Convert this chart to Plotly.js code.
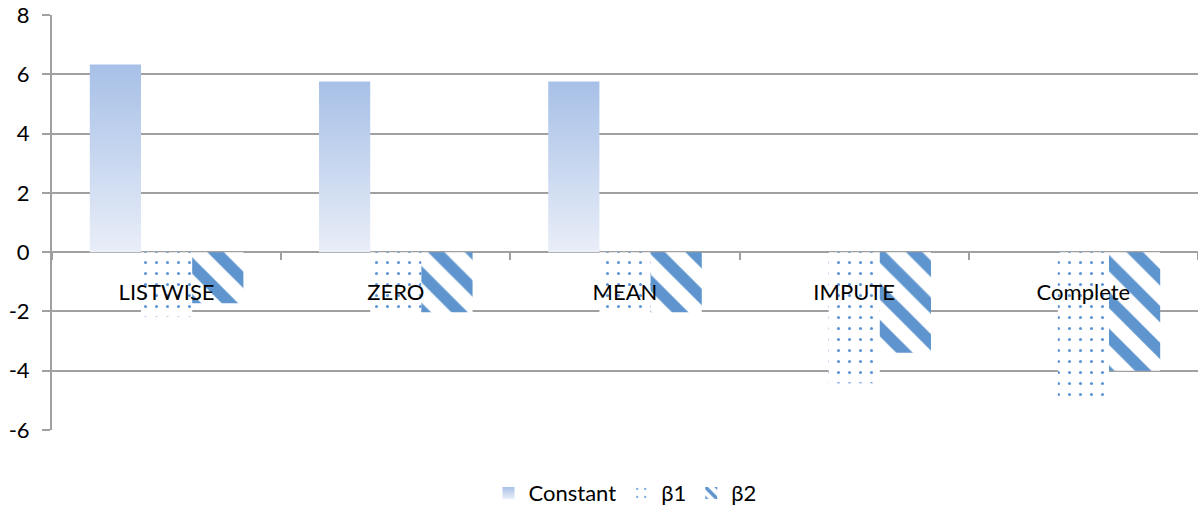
<!DOCTYPE html>
<html>
<head>
<meta charset="utf-8">
<script src="https://cdn.plot.ly/plotly-3.0.1.min.js"></script>
<style>html,body{margin:0;padding:0;background:#fff;}#chart{width:1198px;height:508px;}</style>
</head>
<body>
<div id="chart"></div>
<script>
const categories = ["LISTWISE", "ZERO", "MEAN", "IMPUTE", "Complete"];
const constantVals = [6.33, 5.76, 5.76, 0, 0];
const beta1Vals = [-2.17, -2.03, -2.03, -4.42, -4.98];
const beta2Vals = [-1.72, -2.03, -2.03, -3.39, -4.0];
const seriesNames = ["Constant", "β1", "β2"];
const yTicks = [-6, -4, -2, 0, 2, 4, 6, 8];

const grid = "#a0a0a0";
const fontFam = "Lato, 'Open Sans', sans-serif";

const traces = [
  {type: "bar", name: seriesNames[0], x: categories, y: constantVals,
   marker: {color: "#c6d5ee", line: {width: 0}}},
  {type: "bar", name: seriesNames[1], x: categories, y: beta1Vals,
   marker: {color: "#ffffff", line: {width: 0},
     pattern: {shape: ".", fgcolor: "#5b93d6", bgcolor: "#ffffff", size: 11, solidity: 0.06, fillmode: "replace"}}},
  {type: "bar", name: seriesNames[2], x: categories, y: beta2Vals,
   marker: {color: "#ffffff", line: {width: 0},
     pattern: {shape: "\\", fgcolor: "#5e95ce", bgcolor: "#ffffff", size: 26, solidity: 0.45, fillmode: "replace"}}}
];

const layout = {
  width: 1198, height: 508,
  margin: {l: 52, r: 0, t: 15, b: 78, autoexpand: false},
  paper_bgcolor: "#ffffff", plot_bgcolor: "#ffffff",
  font: {family: fontFam, size: 22, color: "#000000"},
  barmode: "group", bargap: 0.33, bargroupgap: 0,
  showlegend: true,
  legend: {orientation: "h", x: 0.5, xanchor: "center", y: -0.152, yanchor: "middle",
    font: {family: fontFam, size: 22}, itemwidth: 30, tracegroupgap: 0},
  xaxis: {
    type: "category", anchor: "free", automargin: false,
    position: (0 - yTicks[0]) / (yTicks[yTicks.length-1] - yTicks[0]),
    showline: false, showgrid: false, zeroline: false,
    ticks: "outside", tickson: "boundaries", ticklen: 7, tickwidth: 2, tickcolor: grid,
    ticklabelstandoff: 25, tickfont: {family: fontFam, size: 22, color: "#000"}
  },
  yaxis: {
    automargin: false,
    range: [yTicks[0], yTicks[yTicks.length-1]], tickvals: yTicks, ticktext: yTicks.map(String),
    showgrid: true, gridcolor: grid, gridwidth: 2,
    zeroline: true, zerolinecolor: grid, zerolinewidth: 2,
    showline: true, linecolor: grid, linewidth: 2,
    ticks: "outside", ticklen: 8, tickwidth: 2, tickcolor: grid,
    ticklabelstandoff: 8, tickfont: {family: fontFam, size: 22, color: "#000"}
  }
};

Plotly.newPlot("chart", traces, layout, {displayModeBar: false, staticPlot: true}).then(function (gd) {
  const svg = gd.querySelector(".main-svg");
  const ns = "http://www.w3.org/2000/svg";
  let defs = svg.querySelector("defs");
  if (!defs) { defs = document.createElementNS(ns, "defs"); svg.insertBefore(defs, svg.firstChild); }
  const lg = document.createElementNS(ns, "linearGradient");
  lg.setAttribute("id", "constGrad");
  lg.setAttribute("x1", "0"); lg.setAttribute("y1", "0");
  lg.setAttribute("x2", "0"); lg.setAttribute("y2", "1");
  [["0", "#a7c0e7"], ["1", "#e9eef8"]].forEach(function (s) {
    const st = document.createElementNS(ns, "stop");
    st.setAttribute("offset", s[0]); st.setAttribute("stop-color", s[1]);
    lg.appendChild(st);
  });
  defs.appendChild(lg);
  const tr = gd.querySelectorAll(".barlayer .trace")[0];
  if (tr) tr.querySelectorAll("path").forEach(function (p) { p.style.fill = "url(#constGrad)"; });
  const leg = gd.querySelectorAll(".legend .traces")[0];
  if (leg) leg.querySelectorAll(".legendpoints path").forEach(function (p) { p.style.fill = "url(#constGrad)"; });
});
</script>
</body>
</html>
